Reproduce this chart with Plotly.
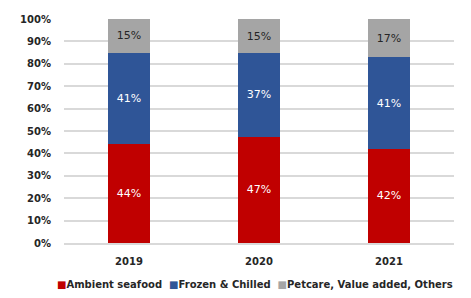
import plotly.graph_objects as go

years = ["2019", "2020", "2021"]
ambient = [44.0, 47.4, 42.0]
frozen = [41.0, 37.4, 41.0]
petcare = [15.0, 15.2, 17.0]
series_names = ["Ambient seafood", "Frozen & Chilled", "Petcare, Value added, Others"]
colors = ["#C00000", "#2F5597", "#A5A5A5"]
label_colors = ["#FFFFFF", "#FFFFFF", "#262626"]
tick_vals = [0, 10, 20, 30, 40, 50, 60, 70, 80, 90, 100]
tick_text = [f"{v}%" for v in tick_vals]

fig = go.Figure()
for name, vals, c, lc in zip(series_names, [ambient, frozen, petcare], colors, label_colors):
    fig.add_trace(go.Bar(
        x=years, y=vals, name=name, marker=dict(color=c, line=dict(width=0)),
        texttemplate="%{y:.0f}%", textposition="inside", insidetextanchor="middle",
        textfont=dict(color=lc, size=11, family="DejaVu Sans"),
        width=0.32, showlegend=False,
    ))

# legend drawn as a single annotation line built from the series names/colours
legend_text = "&nbsp;&nbsp;".join(
    f'<span style="color:{c}">■</span>{n}' for n, c in zip(series_names, colors)
)
fig.add_annotation(
    text=legend_text, xref="paper", yref="paper", x=0.49, y=-0.187,
    xanchor="center", yanchor="middle", showarrow=False,
    font=dict(size=10, family="DejaVu Sans", color="#262626", weight="bold"),
)

fig.update_layout(
    barmode="stack",
    width=471, height=298,
    margin=dict(l=64, r=17, t=19, b=55, autoexpand=False),
    paper_bgcolor="white", plot_bgcolor="white",
    font=dict(family="DejaVu Sans", color="#262626"),
)
fig.update_yaxes(range=[0, 100], tickvals=tick_vals, ticktext=tick_text,
                 showgrid=True, gridcolor="#D9D9D9", gridwidth=1.5, zeroline=False,
                 tickfont=dict(size=10, family="DejaVu Sans", color="#262626", weight="bold"),
                 ticks="", showline=False, ticklabelstandoff=12)
fig.update_xaxes(showline=True, linecolor="#D9D9D9", linewidth=1.5,
                 tickfont=dict(size=10, family="DejaVu Sans", color="#262626", weight="bold"),
                 ticks="", ticklabelstandoff=8)

fig.write_html("out.html", config={"displayModeBar": False},
               post_script="document.body.style.margin='0';")
